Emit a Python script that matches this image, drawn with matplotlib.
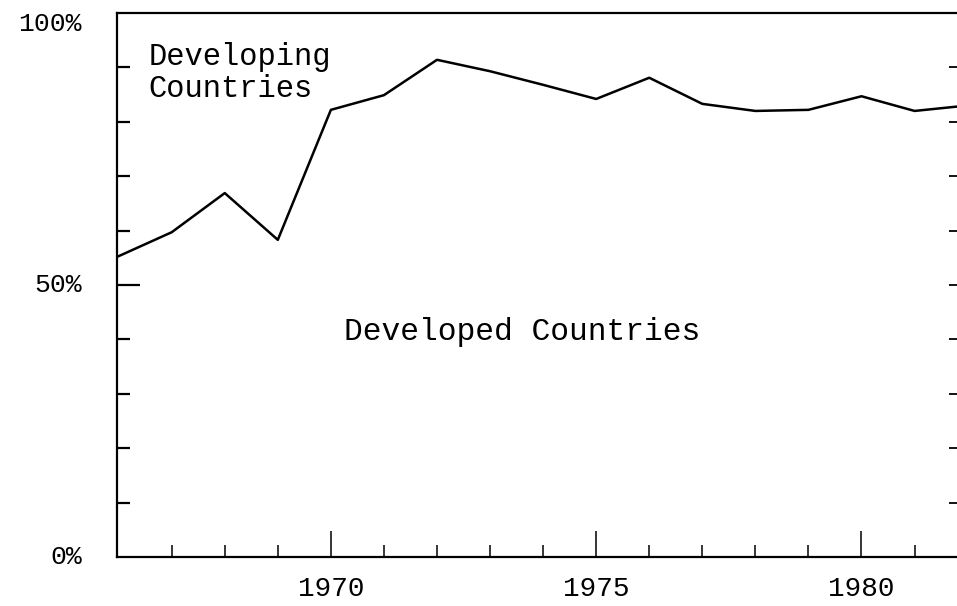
import matplotlib
matplotlib.use("Agg")
import matplotlib.pyplot as plt

# share of developing vs developed countries
years = [1966, 1967, 1968, 1969, 1970, 1971, 1972, 1973, 1974,
         1975, 1976, 1977, 1978, 1979, 1980, 1981, 1982]
share = [55.3, 59.7, 66.9, 58.3, 82.2, 84.9, 91.4, 89.3, 86.8,
         84.2, 88.1, 83.3, 82.0, 82.2, 84.7, 82.0, 83.0]

major_years = [1970, 1975, 1980]
minor_years = [1967, 1968, 1969, 1971, 1972, 1973, 1974,
               1976, 1977, 1978, 1979, 1981]
minor_pct = [10, 20, 30, 40, 60, 70, 80, 90]
right_pct = [10, 20, 30, 40, 50, 60, 70, 80, 90]
y_labels = {0: "0%", 50: "50%", 98: "100%"}

FONT = "Liberation Mono"

fig = plt.figure(figsize=(9.57, 6.06), dpi=100)
ax = fig.add_axes([0.1223, 0.0809, 0.8777, 0.8976])

ax.plot(years, share, color="black", linewidth=1.8, clip_on=True)

ax.set_xlim(1965.97, 1981.8)
ax.set_ylim(0, 100)

for side in ["left", "bottom", "top"]:
    ax.spines[side].set_linewidth(1.6)
ax.spines["right"].set_visible(False)

# x ticks
ax.set_xticks(major_years)
ax.set_xticklabels([str(y) for y in major_years], fontfamily=FONT, fontsize=20)
ax.set_xticks(minor_years, minor=True)
ax.tick_params(axis="x", which="major", direction="in", length=19, width=1.1, pad=14)
ax.tick_params(axis="x", which="minor", direction="in", length=8.5, width=1.1)

# y ticks (left)
ax.set_yticks([50])
ax.set_yticklabels([""])
ax.set_yticks(minor_pct, minor=True)
ax.tick_params(axis="y", which="major", direction="in", length=16.5, width=1.6)
ax.tick_params(axis="y", which="minor", direction="in", length=9.5, width=1.6)

for val, lab in y_labels.items():
    ax.text(-0.042, val, lab, transform=ax.get_yaxis_transform(),
            ha="right", va="center", fontfamily=FONT, fontsize=19)

# short ticks on the right edge
ax2 = ax.twinx()
ax2.set_ylim(0, 100)
ax2.set_yticks(right_pct)
ax2.set_yticklabels([])
ax2.tick_params(axis="y", direction="in", length=6, width=1.3)
for s in ax2.spines.values():
    s.set_visible(False)

ax.text(1966.56, 90.4, "Developing", fontfamily=FONT, fontsize=22, va="baseline")
ax.text(1966.56, 84.6, "Countries", fontfamily=FONT, fontsize=22, va="baseline")
ax.text(1970.24, 39.9, "Developed Countries", fontfamily=FONT, fontsize=22.5, va="baseline")

fig.savefig("out.png", dpi=100)
